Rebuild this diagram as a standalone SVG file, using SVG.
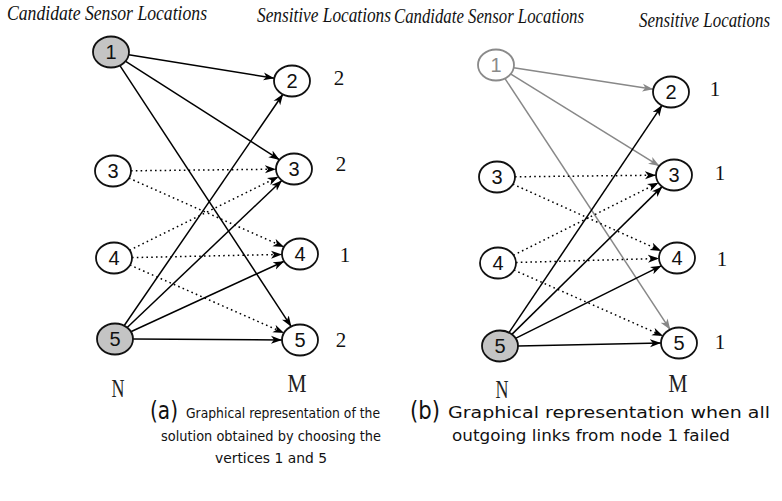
<svg xmlns="http://www.w3.org/2000/svg" width="782" height="501" viewBox="0 0 782 501">
<style>
.bg{fill:#ffffff}
.node ellipse{fill:#ffffff;stroke:#111111;stroke-width:1.8}
.node.sel ellipse{fill:#c4c4c4}
.node.fail ellipse{stroke:#8a8a8a}
.node text{font-family:"Liberation Sans",Arial,sans-serif;font-size:20px;text-anchor:middle;fill:#111111}
.node.fail text{fill:#8a8a8a}
.e{fill:none;stroke:#000000;stroke-width:1.5;marker-end:url(#ah)}
.d{stroke-dasharray:1.6 3.2}
.g{stroke:#888888;marker-end:url(#ahg)}
.title{font-family:"Liberation Serif","Times New Roman",serif;font-style:italic;font-size:20px;fill:#111111}
.w{font-family:"Liberation Serif","Times New Roman",serif;font-size:21px;fill:#111111;text-anchor:middle}
.nm{font-family:"Liberation Serif","Times New Roman",serif;font-size:25px;fill:#222222;text-anchor:middle}
.cap{font-family:"DejaVu Sans","Liberation Sans",sans-serif;font-size:14px;fill:#111111}
.capb{font-family:"DejaVu Sans","Liberation Sans",sans-serif;font-size:16.5px;fill:#111111}
.capl{font-family:"DejaVu Sans","Liberation Sans",sans-serif;font-size:25px;fill:#111111}
</style>
<defs>
<marker id="ah" markerUnits="userSpaceOnUse" markerWidth="12" markerHeight="9" refX="11" refY="4.5" orient="auto">
<path d="M0,0.5 L11,4.5 L0,8.5 L3,4.5 Z" fill="#000000"/>
</marker>
<marker id="ahg" markerUnits="userSpaceOnUse" markerWidth="12" markerHeight="9" refX="11" refY="4.5" orient="auto">
<path d="M0,0.5 L11,4.5 L0,8.5 L3,4.5 Z" fill="#888888"/>
</marker>
</defs>
<rect class="bg" x="0" y="0" width="782" height="501"/>

<g id="titles">
<text class="title" x="7" y="20" textLength="200" lengthAdjust="spacingAndGlyphs">Candidate Sensor  Locations</text>
<text class="title" x="257" y="22" textLength="134" lengthAdjust="spacingAndGlyphs">Sensitive Locations</text>
<text class="title" x="394" y="23" textLength="190" lengthAdjust="spacingAndGlyphs">Candidate Sensor  Locations</text>
<text class="title" x="639" y="27" textLength="131" lengthAdjust="spacingAndGlyphs">Sensitive Locations</text>
</g>

<g id="connectors">
<!-- panel a -->
<line class="e" x1="128.7" y1="54.8" x2="274.3" y2="78.2"/>
<line class="e" x1="125.3" y1="61.1" x2="279.7" y2="159.9"/>
<line class="e" x1="119.6" y1="65.2" x2="291.4" y2="326.8"/>
<line class="e d" x1="131" y1="170.8" x2="276" y2="169.2"/>
<line class="e d" x1="128.9" y1="178.1" x2="284.1" y2="247"/>
<line class="e d" x1="129.5" y1="250.3" x2="278.5" y2="176.7"/>
<line class="e d" x1="132" y1="257.6" x2="282" y2="254.4"/>
<line class="e d" x1="129.9" y1="265" x2="284.1" y2="333"/>
<line class="e" x1="123.9" y1="326" x2="283.1" y2="94"/>
<line class="e" x1="126.9" y1="327.7" x2="282.1" y2="180.3"/>
<line class="e" x1="130.8" y1="331.8" x2="284.2" y2="261.2"/>
<line class="e" x1="133" y1="339.1" x2="282" y2="339.9"/>
<!-- panel b -->
<line class="e g" x1="513.7" y1="67.7" x2="653.3" y2="89.3"/>
<line class="e g" x1="510.5" y1="73.9" x2="659.5" y2="166.1"/>
<line class="e g" x1="504.7" y1="78.2" x2="670.3" y2="329.8"/>
<line class="e d" x1="515" y1="176.8" x2="656" y2="175.2"/>
<line class="e d" x1="512.8" y1="184.1" x2="661.2" y2="250.9"/>
<line class="e d" x1="513.4" y1="255.3" x2="658.6" y2="182.7"/>
<line class="e d" x1="516" y1="262.5" x2="659" y2="258.5"/>
<line class="e d" x1="513.9" y1="270" x2="663.1" y2="336"/>
<line class="e" x1="508.8" y1="332.9" x2="662.2" y2="105.1"/>
<line class="e" x1="511.6" y1="334.6" x2="662.4" y2="186.4"/>
<line class="e" x1="515.5" y1="338.3" x2="661.5" y2="265.7"/>
<line class="e" x1="518" y1="345.9" x2="661" y2="343.1"/>
</g>

<g id="a-N1" class="node sel"><ellipse cx="111" cy="52" rx="18" ry="15.5"/><text x="111" y="59">1</text></g>
<g id="a-N3" class="node"><ellipse cx="113" cy="171" rx="18" ry="15.5"/><text x="113" y="178">3</text></g>
<g id="a-N4" class="node"><ellipse cx="114" cy="258" rx="18" ry="15.5"/><text x="114" y="265">4</text></g>
<g id="a-N5" class="node sel"><ellipse cx="115" cy="339" rx="18" ry="15.5"/><text x="115" y="346">5</text></g>
<g id="a-M2" class="node"><ellipse cx="292" cy="81" rx="18" ry="15.5"/><text x="292" y="88">2</text></g>
<g id="a-M3" class="node"><ellipse cx="294" cy="169" rx="18" ry="15.5"/><text x="294" y="176">3</text></g>
<g id="a-M4" class="node"><ellipse cx="300" cy="254" rx="18" ry="15.5"/><text x="300" y="261">4</text></g>
<g id="a-M5" class="node"><ellipse cx="300" cy="340" rx="18" ry="15.5"/><text x="300" y="347">5</text></g>

<g id="b-N1" class="node fail"><ellipse cx="496" cy="65" rx="18" ry="15.5"/><text x="496" y="72">1</text></g>
<g id="b-N3" class="node"><ellipse cx="497" cy="177" rx="18" ry="15.5"/><text x="497" y="184">3</text></g>
<g id="b-N4" class="node"><ellipse cx="498" cy="263" rx="18" ry="15.5"/><text x="498" y="270">4</text></g>
<g id="b-N5" class="node sel"><ellipse cx="500" cy="346" rx="18" ry="15.5"/><text x="500" y="353">5</text></g>
<g id="b-M2" class="node"><ellipse cx="671" cy="92" rx="18" ry="15.5"/><text x="671" y="99">2</text></g>
<g id="b-M3" class="node"><ellipse cx="674" cy="175" rx="18" ry="15.5"/><text x="674" y="182">3</text></g>
<g id="b-M4" class="node"><ellipse cx="677" cy="258" rx="18" ry="15.5"/><text x="677" y="265">4</text></g>
<g id="b-M5" class="node"><ellipse cx="679" cy="343" rx="18" ry="15.5"/><text x="679" y="350">5</text></g>

<g id="weights">
<text class="w" x="339" y="85">2</text>
<text class="w" x="341" y="171">2</text>
<text class="w" x="345" y="262">1</text>
<text class="w" x="341" y="347">2</text>
<text class="w" x="715" y="96">1</text>
<text class="w" x="720" y="180">1</text>
<text class="w" x="722" y="266">1</text>
<text class="w" x="720" y="349">1</text>
</g>

<g id="axis-labels">
<text class="nm" x="118" y="397" textLength="13" lengthAdjust="spacingAndGlyphs">N</text>
<text class="nm" x="297" y="392" textLength="19" lengthAdjust="spacingAndGlyphs">M</text>
<text class="nm" x="502" y="398" textLength="13" lengthAdjust="spacingAndGlyphs">N</text>
<text class="nm" x="678" y="392" textLength="19" lengthAdjust="spacingAndGlyphs">M</text>
</g>

<g id="captions">
<text class="capl" x="150" y="419" textLength="28" lengthAdjust="spacingAndGlyphs">(a)</text>
<text class="cap" x="186" y="418" textLength="194" lengthAdjust="spacingAndGlyphs">Graphical representation of the</text>
<text class="cap" x="161" y="441" textLength="220" lengthAdjust="spacingAndGlyphs">solution obtained by choosing the</text>
<text class="cap" x="215" y="463" textLength="112" lengthAdjust="spacingAndGlyphs">vertices 1 and 5</text>
<text class="capl" x="410" y="419" textLength="30" lengthAdjust="spacingAndGlyphs">(b)</text>
<text class="capb" x="448" y="418" textLength="322" lengthAdjust="spacingAndGlyphs">Graphical representation when all</text>
<text class="capb" x="452" y="441" textLength="278" lengthAdjust="spacingAndGlyphs">outgoing links from node 1 failed</text>
</g>
</svg>
